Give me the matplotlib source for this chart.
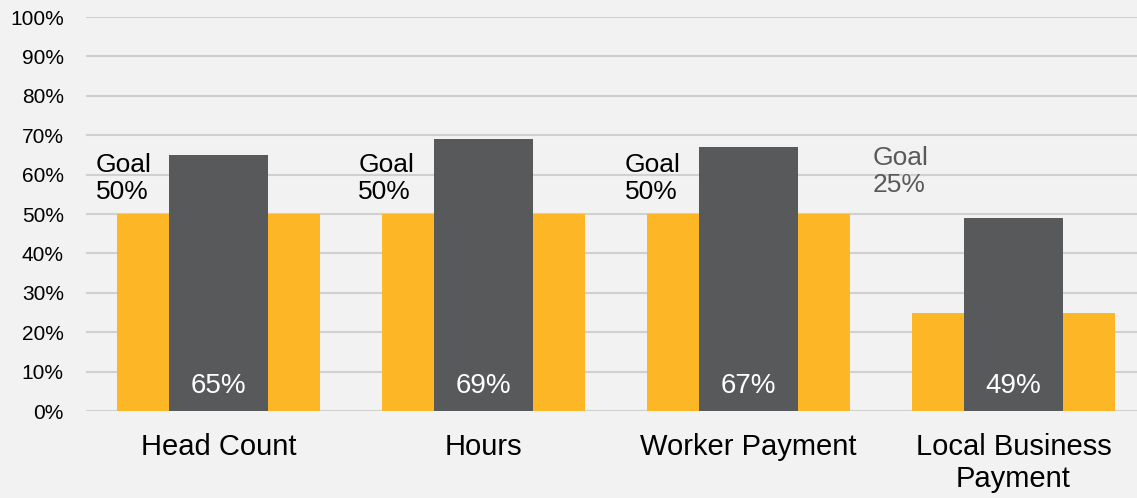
import matplotlib
matplotlib.use("Agg")
import matplotlib.pyplot as plt
from matplotlib.ticker import FuncFormatter

categories = ["Head Count", "Hours", "Worker Payment", "Local Business\nPayment"]
goals = [50, 50, 50, 25]
actuals = [65, 69, 67, 49]
goal_labels = ["Goal\n50%", "Goal\n50%", "Goal\n50%", "Goal\n25%"]
yticks = list(range(0, 101, 10))

plt.rcParams['font.family'] = ['Liberation Sans', 'DejaVu Sans']

W, H = 1137, 498
fig = plt.figure(figsize=(W / 100, H / 100), dpi=100, facecolor='#f2f2f2')
ax = fig.add_axes([86 / W, 1 - 411 / H, 1 - 86 / W, (411 - 17) / H])
ax.set_facecolor('#f2f2f2')

x = list(range(len(categories)))
ax.bar(x, goals, width=0.768, color='#fdb625', zorder=2)
ax.bar(x, actuals, width=0.373, color='#58595b', zorder=3)

for xi, v in zip(x, actuals):
    ax.text(xi, 4.5, f"{v}%", ha='center', va='baseline', color='white',
            fontsize=20, zorder=4)

goal_offsets = [-0.462, -0.473, -0.466, -0.530]
goal_tops = [65.4, 65.4, 65.4, 67.2]
goal_colors = ['black', 'black', 'black', '#595959']
for xi, lab, off, top, c in zip(x, goal_labels, goal_offsets, goal_tops, goal_colors):
    ax.text(xi + off, top, lab, ha='left', va='top', color=c, fontsize=19,
            linespacing=1.12, zorder=4)

ax.set_xlim(-0.5, 3.466)
ax.set_ylim(0, 100)
ax.set_yticks(yticks)
ax.yaxis.set_major_formatter(FuncFormatter(lambda v, p: f"{int(v)}%"))
ax.set_xticks(x)
ax.set_xticklabels(categories, fontsize=21, linespacing=1.18)
ax.tick_params(axis='y', length=0, pad=16, labelsize=15)
ax.tick_params(axis='x', length=0, pad=16)
ax.grid(axis='y', color='#d0d0d0', linewidth=1.5, zorder=1)
ax.set_axisbelow(True)
for s in ax.spines.values():
    s.set_visible(False)

fig.savefig("out.png", dpi=100, facecolor='#f2f2f2')
